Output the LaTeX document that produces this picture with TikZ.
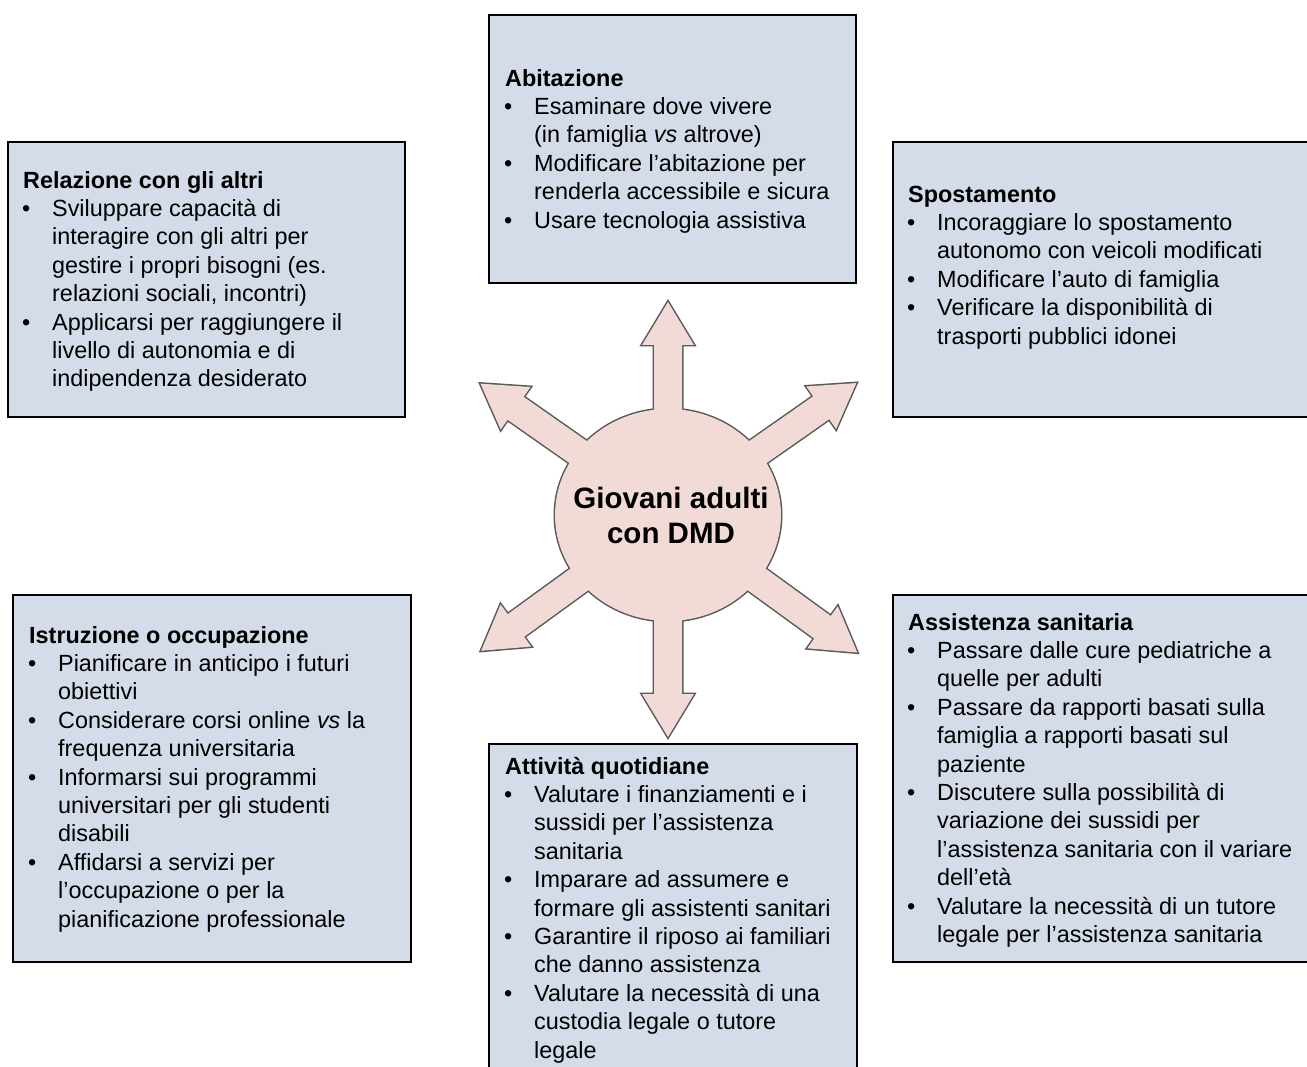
\documentclass[tikz,border=0pt]{standalone}
\usepackage{fontspec}
\setmainfont{Liberation Sans}
\usetikzlibrary{positioning}

\definecolor{azzurro}{RGB}{211,220,232}
\definecolor{rosa}{RGB}{242,219,215}

\newcommand{\pto}{\makebox[29pt][l]{\hspace{-1pt}\textbullet}}
\newcommand{\rie}{\hspace*{29pt}}
\newcommand{\titolo}[1]{\strut\textbf{#1}}
% star: arrows and circle, called once for the outline, once for the fill
\newcommand{\stella}[1]{%
  \foreach \ang/\lun in {90/213, 270/222, 35/230, 145/229, 216/231, 324/234}
    \path[#1, shift={(centro)}, rotate=\ang] (0,-14) -- (\lun-43,-14) -- (\lun-43,-26)
      -- (\lun,0) -- (\lun-43,26) -- (\lun-43,14) -- (0,14) -- cycle;
  \path[#1] (centro) ellipse [x radius=113, y radius=106];}

\tikzset{
  riquadro/.style={draw=black, line width=1.8pt, fill=azzurro, anchor=north west, inner sep=0pt},
  elenco/.style={inner sep=0pt, align=left, font=\fontsize{23.4}{28.4}\selectfont},
  bordo/.style={draw=black!65, line width=3pt},
  pieno/.style={fill=rosa},
}

\begin{document}
\begin{tikzpicture}[x=1pt, y=1pt]
        \clip (0,0) rectangle (1307,-1067);

        \node[riquadro, minimum width=367pt, minimum height=268pt] (abitazione) at (488,-14) {};
        \node[riquadro, minimum width=397pt, minimum height=275pt] (relazione) at (7,-141) {};
        \node[riquadro, minimum width=440pt, minimum height=275pt] (spostamento) at (892,-141) {};
        \node[riquadro, minimum width=398pt, minimum height=367pt] (istruzione) at (12,-594) {};
        \node[riquadro, minimum width=368pt, minimum height=360pt] (attivita) at (488,-743) {};
        \node[riquadro, minimum width=440pt, minimum height=367pt] (assistenza) at (892,-594) {};

        \node[elenco, below right=52pt and 17pt of abitazione.north west] (t-abitazione) {%
          \titolo{Abitazione}\\
          \pto Esaminare dove vivere\\
          \rie (in famiglia \textit{vs} altrove)\\
          \pto Modificare l’abitazione per\\
          \rie renderla accessibile e sicura\\
          \pto Usare tecnologia assistiva};
        \node[elenco, below right=27pt and 16pt of relazione.north west] (t-relazione) {%
          \titolo{Relazione con gli altri}\\
          \pto Sviluppare capacità di\\
          \rie interagire con gli altri per\\
          \rie gestire i propri bisogni (es.\\
          \rie relazioni sociali, incontri)\\
          \pto Applicarsi per raggiungere il\\
          \rie livello di autonomia e di\\
          \rie indipendenza desiderato};
        \node[elenco, below right=41pt and 16pt of spostamento.north west] (t-spostamento) {%
          \titolo{Spostamento}\\
          \pto Incoraggiare lo spostamento\\
          \rie autonomo con veicoli modificati\\
          \pto Modificare l’auto di famiglia\\
          \pto Verificare la disponibilità di\\
          \rie trasporti pubblici idonei};
        \node[elenco, below right=29pt and 17pt of istruzione.north west] (t-istruzione) {%
          \titolo{Istruzione o occupazione}\\
          \pto Pianificare in anticipo i futuri\\
          \rie obiettivi\\
          \pto Considerare corsi online \textit{vs} la\\
          \rie frequenza universitaria\\
          \pto Informarsi sui programmi\\
          \rie universitari per gli studenti\\
          \rie disabili\\
          \pto Affidarsi a servizi per\\
          \rie l’occupazione o per la\\
          \rie pianificazione professionale};
        \node[elenco, below right=11pt and 17pt of attivita.north west] (t-attivita) {%
          \titolo{Attività quotidiane}\\
          \pto Valutare i finanziamenti e i\\
          \rie sussidi per l’assistenza\\
          \rie sanitaria\\
          \pto Imparare ad assumere e\\
          \rie formare gli assistenti sanitari\\
          \pto Garantire il riposo ai familiari\\
          \rie che danno assistenza\\
          \pto Valutare la necessità di una\\
          \rie custodia legale o tutore\\
          \rie legale};
        \node[elenco, below right=16pt and 16pt of assistenza.north west] (t-assistenza) {%
          \titolo{Assistenza sanitaria}\\
          \pto Passare dalle cure pediatriche a\\
          \rie quelle per adulti\\
          \pto Passare da rapporti basati sulla\\
          \rie famiglia a rapporti basati sul\\
          \rie paziente\\
          \pto Discutere sulla possibilità di\\
          \rie variazione dei sussidi per\\
          \rie l’assistenza sanitaria con il variare\\
          \rie dell’età\\
          \pto Valutare la necessità di un tutore\\
          \rie legale per l’assistenza sanitaria};

        \coordinate (centro) at (668,-515);
        \stella{bordo}
        \stella{pieno}
        \node[inner sep=0pt, align=center, font=\fontsize{29.5}{35}\selectfont\bfseries] (giovani) at (671,-515) {Giovani adulti\\con DMD};

    \end{tikzpicture}
\end{document}
